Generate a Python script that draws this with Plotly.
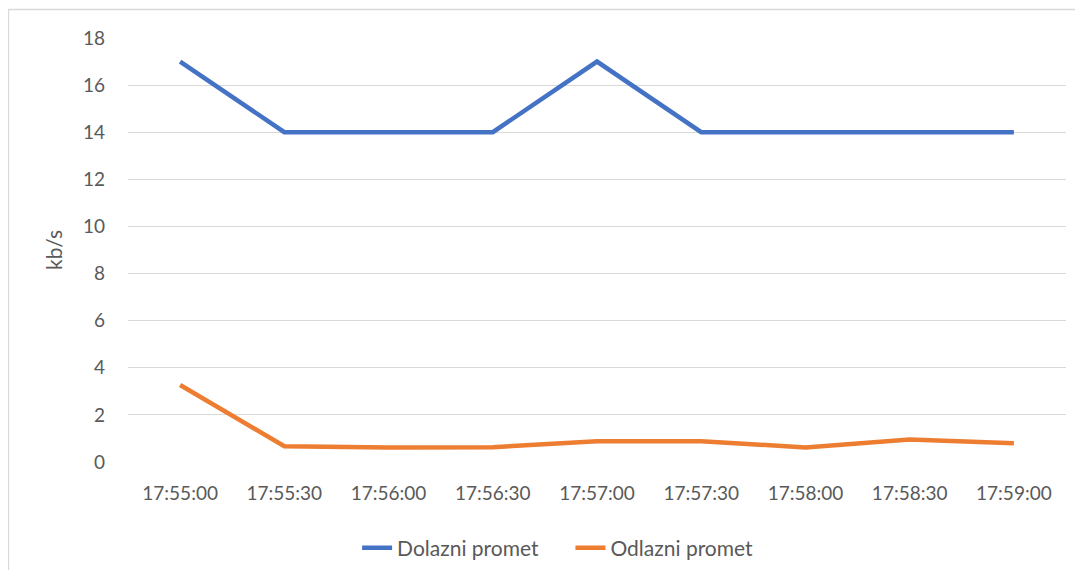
import plotly.graph_objects as go

# vrijeme mjerenja i promet u kb/s
vrijeme = ['17:55:00', '17:55:30', '17:56:00', '17:56:30', '17:57:00',
           '17:57:30', '17:58:00', '17:58:30', '17:59:00']
dolazni = [17, 14, 14, 14, 17, 14, 14, 14, 14]
odlazni = [3.27, 0.67, 0.62, 0.63, 0.88, 0.88, 0.62, 0.95, 0.80]
y_ticks = [0, 2, 4, 6, 8, 10, 12, 14, 16, 18]

fig = go.Figure()
fig.add_trace(go.Scatter(x=vrijeme, y=dolazni, mode='lines', name='Dolazni promet     ',
                         line=dict(color='#4472C4', width=4.5)))
fig.add_trace(go.Scatter(x=vrijeme, y=odlazni, mode='lines', name='Odlazni promet',
                         line=dict(color='#ED7D31', width=4.5)))

# stranica ima 8px margine, pa je slika nešto manja
fig.update_layout(
    width=1067, height=562,
    margin=dict(l=120, r=9, t=30, b=108, autoexpand=False),
    paper_bgcolor='white', plot_bgcolor='white',
    font=dict(family='Lato, Open Sans, sans-serif', size=19, color='#595959'),
    showlegend=True,
    legend=dict(orientation='h', x=0.458, xanchor='center', y=-0.203, yanchor='middle',
                font=dict(size=21), tracegroupgap=0),
    xaxis=dict(type='category', range=[-0.5, len(vrijeme) - 0.5], showgrid=False,
               zeroline=False, showline=False, ticks='', ticklabelstandoff=18),
    yaxis=dict(range=[0, 18], tickvals=y_ticks, showgrid=True, gridcolor='#D9D9D9',
               gridwidth=1.3, zeroline=False, showline=False, ticks='',
               ticklabelstandoff=22,
               title=dict(text='kb/s', font=dict(size=21), standoff=14)),
    shapes=[dict(type='rect', xref='paper', yref='paper',
                 x0=-0.1274, x1=1.2, y0=-0.5, y1=1.0672,
                 line=dict(color='#D9D9D9', width=1.3), fillcolor='rgba(0,0,0,0)',
                 layer='below')],
)

fig.write_html('out.html')
